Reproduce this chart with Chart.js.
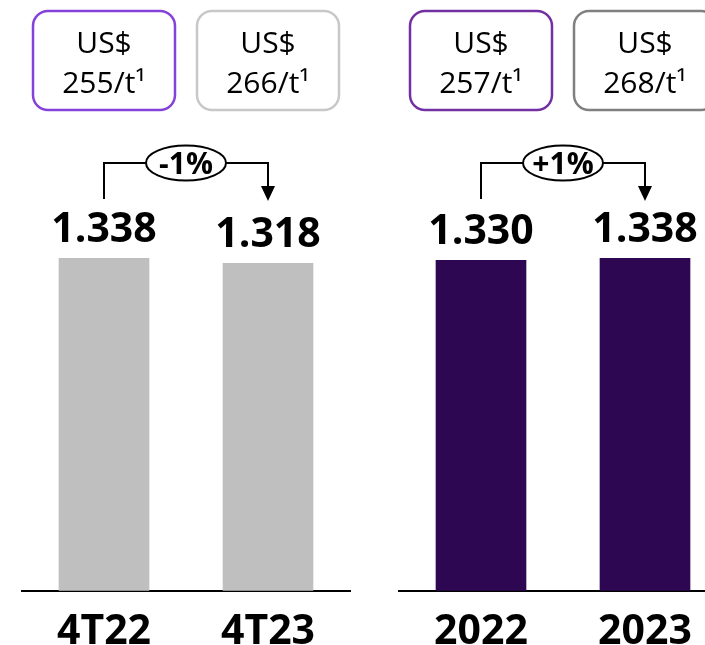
<!DOCTYPE html>
<html>
<head>
<meta charset="utf-8">
<script src="https://cdn.jsdelivr.net/npm/chart.js@4.4.1/dist/chart.umd.min.js"></script>
<style>
html, body { margin: 0; padding: 0; background: #fff; overflow: hidden; }
body { width: 705px; height: 645px; position: relative; }
canvas { position: absolute; top: 0; }
#quarter { left: 0; }
#year { left: 360px; }
</style>
</head>
<body>
<canvas id="quarter" width="360" height="675"></canvas>
<canvas id="year" width="380" height="675"></canvas>
<script>
// 4th quarter
var quarterLabels = ["4T22", "4T23"];
var quarterValues = [1.338, 1.318];
var quarterPrices = [255, 266];
var quarterChange = "-1%";

// full year
var yearLabels = ["2022", "2023"];
var yearValues = [1.330, 1.338];
var yearPrices = [257, 268];
var yearChange = "+1%";

var FONT = "'Open Sans', 'DejaVu Sans', sans-serif";

// price boxes, value labels and the change arrow
var callouts = {
    id: "callouts",
    afterDatasetsDraw: function(chart, args, opts) {
        var ctx = chart.ctx;
        var bars = chart.getDatasetMeta(0).data;
        var values = chart.data.datasets[0].data;

        ctx.save();
        ctx.fillStyle = "#000";
        ctx.textAlign = "center";
        ctx.textBaseline = "alphabetic";

        bars.forEach(function(bar, i) {
            // box with price per tonne
            ctx.beginPath();
            ctx.lineWidth = 2.5;
            ctx.strokeStyle = opts.borders[i];
            ctx.roundRect(bar.x - 71, 11, 142, 99, 15);
            ctx.stroke();
            ctx.font = "400 30px " + FONT;
            ctx.fillText("US$", bar.x, 53);
            ctx.fillText(opts.prices[i] + "/t\u00b9", bar.x, 93);

            // value on top of bar
            ctx.font = "700 41px " + FONT;
            ctx.fillText(values[i].toFixed(3), bar.x, bar.y - 16);
        });

        var x0 = bars[0].x, x1 = bars[1].x;
        var mid = (x0 + x1) / 2;
        var lineY = 163;

        ctx.strokeStyle = "#000";
        ctx.lineWidth = 2;
        ctx.beginPath();
        ctx.moveTo(x0, 199);
        ctx.lineTo(x0, lineY);
        ctx.lineTo(mid - 40, lineY);
        ctx.moveTo(mid + 40, lineY);
        ctx.lineTo(x1, lineY);
        ctx.lineTo(x1, 188);
        ctx.stroke();

        ctx.beginPath();
        ctx.moveTo(x1 - 7, 186);
        ctx.lineTo(x1 + 7, 186);
        ctx.lineTo(x1, 201);
        ctx.closePath();
        ctx.fill();

        ctx.beginPath();
        ctx.ellipse(mid, lineY, 40, 17.5, 0, 0, Math.PI * 2);
        ctx.fillStyle = "#fff";
        ctx.fill();
        ctx.stroke();

        ctx.fillStyle = "#000";
        ctx.font = "700 30px " + FONT;
        ctx.fillText(opts.change, mid, lineY + 11);
        ctx.restore();
    }
};

function makeChart(id, labels, values, color, prices, borders, change, padLeft, padRight) {
    return new Chart(document.getElementById(id), {
        type: "bar",
        data: {
            labels: labels,
            datasets: [{
                data: values,
                backgroundColor: color,
                barThickness: 90
            }]
        },
        options: {
            responsive: false,
            animation: false,
            layout: {
                padding: { top: 94, bottom: 1, left: padLeft, right: padRight }
            },
            scales: {
                x: {
                    grid: { display: false, drawTicks: false },
                    border: { display: true, color: "#000", width: 2 },
                    ticks: {
                        color: "#000",
                        padding: 17,
                        font: { family: FONT, size: 41, weight: "700", lineHeight: 1.2 }
                    }
                },
                y: {
                    display: false,
                    min: 0,
                    max: 2
                }
            },
            plugins: {
                legend: { display: false },
                tooltip: { enabled: false },
                callouts: { prices: prices, borders: borders, change: change }
            }
        },
        plugins: [callouts]
    });
}

makeChart("quarter", quarterLabels, quarterValues, "#BFBFBF", quarterPrices,
    ["#8442DA", "#C8C8C8"], quarterChange, 22, 10);
makeChart("year", yearLabels, yearValues, "#2D0751", yearPrices,
    ["#7330A2", "#808080"], yearChange, 39, 13);
</script>
</body>
</html>
